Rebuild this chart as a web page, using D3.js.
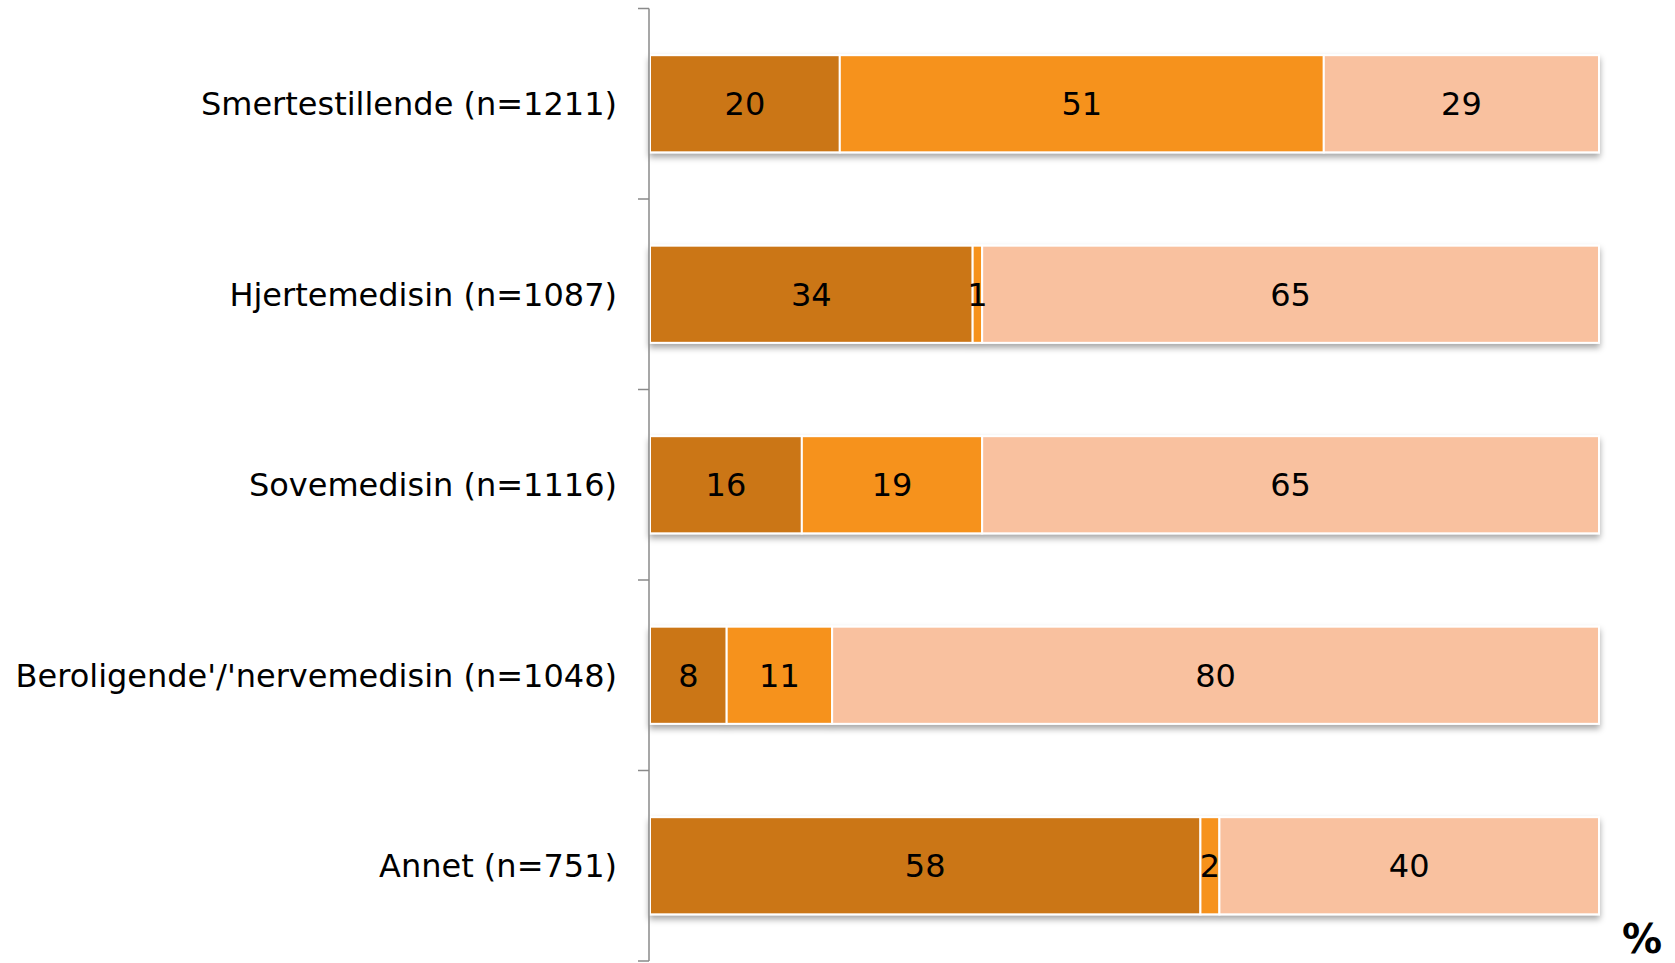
<!DOCTYPE html>
<html>
<head>
<meta charset="utf-8">
<script src="https://cdn.jsdelivr.net/npm/d3@7/dist/d3.min.js"></script>
<style>
  html, body { margin: 0; padding: 0; background: #fff; }
  svg { display: block; font-family: "DejaVu Sans", Verdana, sans-serif; }
</style>
</head>
<body>
<svg id="chart" width="1675" height="963"></svg>
<script>
// ---- data ----
const categories = [
  "Smertestillende (n=1211)",
  "Hjertemedisin (n=1087)",
  "Sovemedisin (n=1116)",
  "Beroligende'/'nervemedisin (n=1048)",
  "Annet (n=751)"
];
const seriesA = [20, 34, 16, 8, 58];   // dark
const seriesB = [51, 1, 19, 11, 2];    // mid
const seriesC = [29, 65, 65, 80, 40];  // light
const seriesColors = ["#CB7618", "#F6921F", "#F9C19F"];
const unitLabel = "%";

// ---- layout ----
const svg = d3.select("#chart");
const margin = { left: 650, right: 76, top: 8.5, bottom: 2 };
const W = 1675, H = 963;

const y = d3.scaleBand()
  .domain(categories)
  .range([margin.top, H - margin.bottom])
  .paddingInner(0.49)
  .paddingOuter(0.245);

const x = d3.scaleLinear().domain([0, 100]).range([margin.left, W - margin.right]);

const defs = svg.append("defs");
const f = defs.append("filter").attr("id", "shadow")
  .attr("x", "-5%").attr("y", "-20%").attr("width", "110%").attr("height", "150%");
f.append("feDropShadow").attr("dx", 0).attr("dy", 4).attr("stdDeviation", 3)
  .attr("flood-color", "#000").attr("flood-opacity", 0.35);

const rows = categories.map((c, i) => {
  const vals = [seriesA[i], seriesB[i], seriesC[i]];
  const total = d3.sum(vals);
  let acc = 0;
  return {
    cat: c,
    segs: vals.map((v, k) => {
      const s = { v, k, x0: acc / total * 100, x1: (acc + v) / total * 100 };
      acc += v;
      return s;
    })
  };
});

const g = svg.append("g").selectAll("g.row").data(rows).join("g")
  .attr("class", "row")
  .attr("filter", "url(#shadow)");

g.selectAll("rect").data(d => d.segs.map(s => ({ ...s, cat: d.cat }))).join("rect")
  .attr("x", d => x(d.x0))
  .attr("y", d => y(d.cat))
  .attr("width", d => x(d.x1) - x(d.x0))
  .attr("height", y.bandwidth())
  .attr("fill", d => seriesColors[d.k])
  .attr("stroke", "#fff")
  .attr("stroke-width", 2);

// value labels
svg.append("g").selectAll("g").data(rows).join("g")
  .selectAll("text").data(d => d.segs.map(s => ({ ...s, cat: d.cat }))).join("text")
  .attr("x", d => (x(d.x0) + x(d.x1)) / 2)
  .attr("y", d => y(d.cat) + y.bandwidth() / 2)
  .attr("dy", "0.36em")
  .attr("text-anchor", "middle")
  .attr("font-size", 32)
  .attr("fill", "#000")
  .text(d => d.v);

// axis
const axisG = svg.append("g").attr("transform", `translate(${margin.left - 1},0)`);
const boundaries = categories.map(c => y(c) - y.step() * y.paddingInner() / 2);
boundaries.push(H - margin.bottom);
axisG.append("line")
  .attr("x1", 0).attr("x2", 0)
  .attr("y1", margin.top).attr("y2", H - margin.bottom)
  .attr("stroke", "#8a8a8a").attr("stroke-width", 1.5);
axisG.selectAll("line.tick").data(boundaries).join("line")
  .attr("class", "tick")
  .attr("x1", -11).attr("x2", 0)
  .attr("y1", d => d).attr("y2", d => d)
  .attr("stroke", "#8a8a8a").attr("stroke-width", 1.5);

// category labels
svg.append("g").selectAll("text").data(categories).join("text")
  .attr("x", 617)
  .attr("y", d => y(d) + y.bandwidth() / 2)
  .attr("dy", "0.36em")
  .attr("text-anchor", "end")
  .attr("font-size", 32)
  .attr("fill", "#000")
  .text(d => d);

// unit
svg.append("text")
  .attr("x", 1642).attr("y", 953)
  .attr("text-anchor", "middle")
  .attr("font-size", 40)
  .attr("font-weight", "bold")
  .text(unitLabel);
</script>
</body>
</html>
